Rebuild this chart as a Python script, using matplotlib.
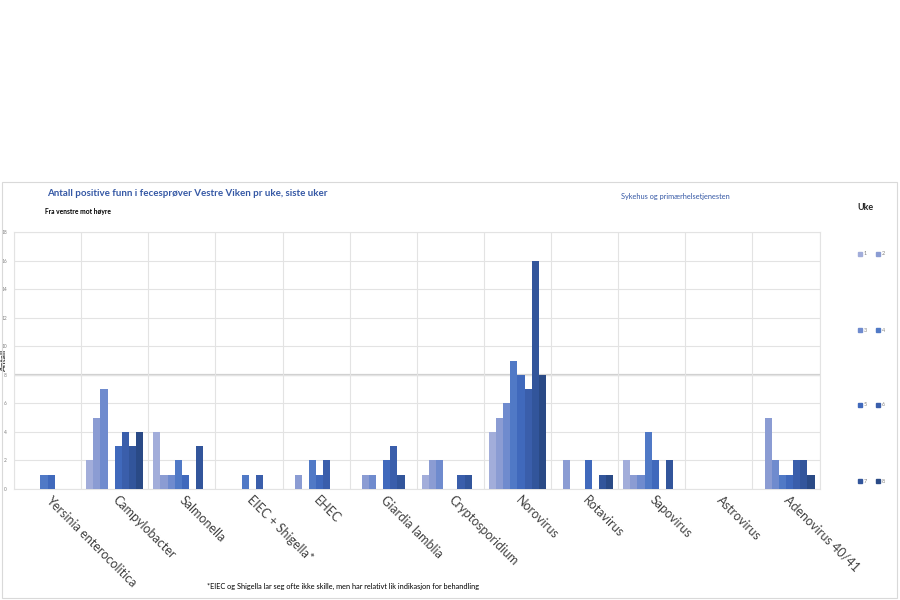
import matplotlib.pyplot as plt
import numpy as np
from matplotlib.patches import Rectangle

categories = ['Yersinia enterocolitica', 'Campylobacter', 'Salmonella', 'EIEC + Shigella*',
              'EHEC', 'Giardia lamblia', 'Cryptosporidium', 'Norovirus', 'Rotavirus',
              'Sapovirus', 'Astrovirus', 'Adenovirus 40/41']
weeks = ['1', '2', '3', '4', '5', '6', '7', '8']

# antall per uke (uke 1..8, én verdi per kategori)
uke1 = [0, 2, 4, 0, 0, 0, 1, 4, 0, 2, 0, 0]
uke2 = [0, 5, 1, 0, 1, 1, 2, 5, 2, 1, 0, 5]
uke3 = [0, 7, 1, 0, 0, 1, 2, 6, 0, 1, 0, 2]
uke4 = [1, 0, 2, 1, 2, 0, 0, 9, 0, 4, 0, 1]
uke5 = [1, 3, 1, 0, 1, 2, 0, 8, 2, 2, 0, 1]
uke6 = [0, 4, 0, 1, 2, 3, 1, 7, 0, 0, 0, 2]
uke7 = [0, 3, 3, 0, 0, 1, 1, 16, 1, 2, 0, 2]
uke8 = [0, 4, 0, 0, 0, 0, 0, 8, 1, 0, 0, 1]
series = [uke1, uke2, uke3, uke4, uke5, uke6, uke7, uke8]

colors = ['#A2ADDA', '#8B9CD3', '#6F8BCE', '#5079C6', '#4069BC', '#3A5EAB', '#32559B', '#2A4A86']

plt.rcParams['font.family'] = ['Lato', 'DejaVu Sans']

fig = plt.figure(figsize=(9, 6), dpi=100)
fig.patches.append(Rectangle((0.002, 0.004), 0.995, 0.693, transform=fig.transFigure,
                             fill=False, edgecolor='#D9D9D9', linewidth=0.8))

ax = fig.add_axes([0.0156, 0.185, 0.895, 0.428])
x = np.arange(len(categories))
n = len(series)
w = 0.85 / n
for j, vals in enumerate(series):
    ax.bar(x + (j - (n - 1) / 2) * w, vals, w, color=colors[j], label=weeks[j], zorder=3)

ax.set_xlim(-0.5, len(categories) - 0.5)
ax.set_ylim(0, 18)
ax.set_yticks(np.arange(0, 19, 2))
ax.tick_params(axis='y', labelsize=3.5, labelcolor='#808080', length=0, pad=5)
ax.set_xticks(np.arange(-0.5, len(categories), 1))
ax.set_xticklabels([])
ax.tick_params(axis='x', length=0)
ax.grid(True, color='#E3E3E3', linewidth=0.8, zorder=0)
ax.axhline(8, color='#D0D0D0', linewidth=1.6, zorder=1)
for s in ax.spines.values():
    s.set_color('#E3E3E3')
    s.set_linewidth(0.8)

for i, c in enumerate(categories):
    ax.text(i, -0.035, c, transform=ax.get_xaxis_transform(), rotation=-45,
            rotation_mode='anchor', ha='left', va='center', fontsize=9, color='#404040')

ax.set_ylabel('Antall', fontsize=6, fontweight='bold', color='#404040', labelpad=-1)
ax.yaxis.set_label_coords(-0.009, 0.5)

fig.text(0.052, 0.678, 'Antall positive funn i fecesprøver Vestre Viken pr uke, siste uker',
         fontsize=7, fontweight='bold', color='#3558A5', va='center')
fig.text(0.05, 0.648, 'Fra venstre mot høyre', fontsize=4.8, fontweight='bold',
         color='black', va='center')
fig.text(0.69, 0.673, 'Sykehus og primærhelsetjenesten', fontsize=5.3,
         color='#3558A5', va='center')
fig.text(0.962, 0.655, 'Uke', fontsize=6.5, fontweight='bold', color='#262626',
         ha='center', va='center')
fig.text(0.23, 0.022, '*EIEC og Shigella lar seg ofte ikke skille, men har relativt lik indikasjon for behandling',
         fontsize=5.3, color='black', va='center')

# forklaring: 2 kolonner, 4 rader
leg_y = [0.577, 0.45, 0.325, 0.198]
for j in range(n):
    r, col = divmod(j, 2)
    lx = 0.958 + col * 0.02
    ly = leg_y[r]
    fig.patches.append(Rectangle((lx - 0.0045, ly - 0.003), 0.0045, 0.0068,
                                 transform=fig.transFigure, color=colors[j]))
    fig.text(lx + 0.002, ly, weeks[j], fontsize=4, color='#808080', va='center')

fig.savefig('out.png', dpi=100)
